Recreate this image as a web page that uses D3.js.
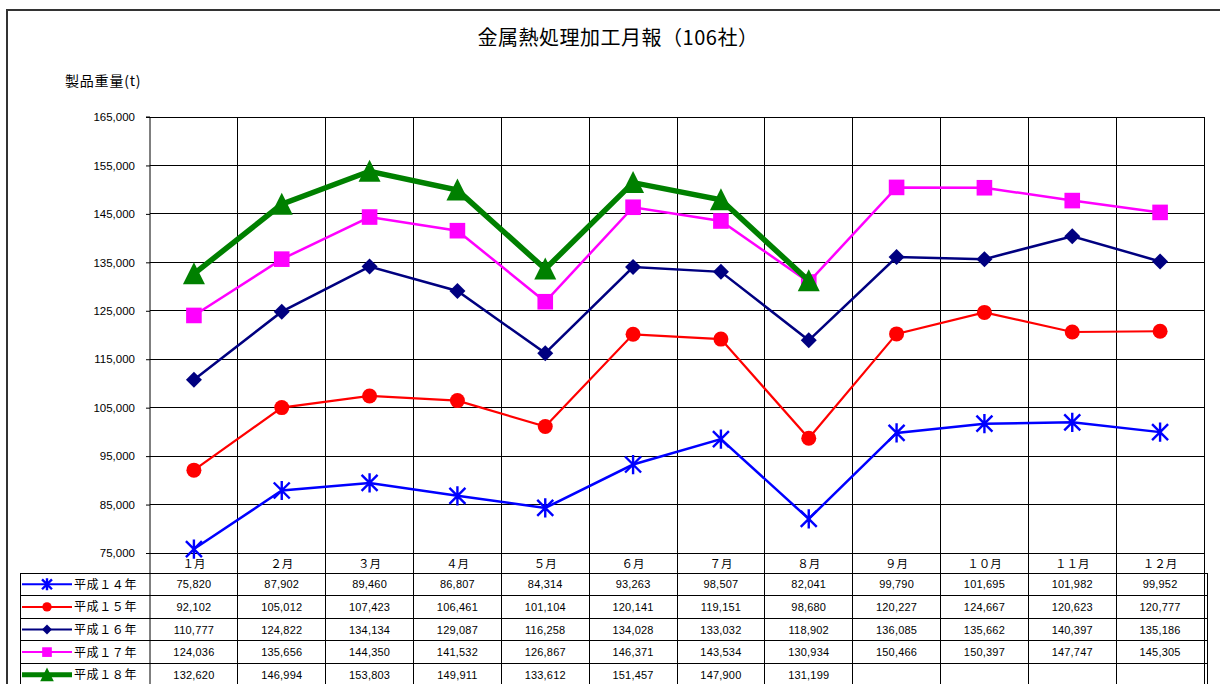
<!DOCTYPE html>
<html><head><meta charset="utf-8">
<script src="https://cdn.jsdelivr.net/npm/d3@7/dist/d3.min.js"></script>
<style>
html,body{margin:0;padding:0;background:#fff;overflow:hidden;}
svg{display:block;}
</style></head>
<body>
<svg id="c" width="1220" height="684"></svg>
<script>
const months = ["１月","２月","３月","４月","５月","６月","７月","８月","９月","１０月","１１月","１２月"];
const seriesNames = ["平成１４年","平成１５年","平成１６年","平成１７年","平成１８年"];
const h14 = [75820,87902,89460,86807,84314,93263,98507,82041,99790,101695,101982,99952];
const h15 = [92102,105012,107423,106461,101104,120141,119151,98680,120227,124667,120623,120777];
const h16 = [110777,124822,134134,129087,116258,134028,133032,118902,136085,135662,140397,135186];
const h17 = [124036,135656,144350,141532,126867,146371,143534,130934,150466,150397,147747,145305];
const h18 = [132620,146994,153803,149911,133612,151457,147900,131199];
const yTicks = [75000,85000,95000,105000,115000,125000,135000,145000,155000,165000];
const titleText = "金属熱処理加工月報（106社）";
const yLabel = "製品重量(t)";

const series = [
  {name:seriesNames[0], values:h14, color:"#0000FF", width:2.5, marker:"star"},
  {name:seriesNames[1], values:h15, color:"#FF0000", width:2.2, marker:"circle"},
  {name:seriesNames[2], values:h16, color:"#000080", width:2.5, marker:"diamond"},
  {name:seriesNames[3], values:h17, color:"#FF00FF", width:2.5, marker:"square"},
  {name:seriesNames[4], values:h18, color:"#008000", width:5.5, marker:"triangle"}
];

const svg = d3.select("#c");
const L = 150, R = 1204, T = 117, B = 553;
const x = d3.scaleBand().domain(months).range([L, R]);
const y = d3.scaleLinear().domain([75000,165000]).range([B, T]);
const jp = "'Noto Sans CJK JP', sans-serif";
const num = "'Liberation Sans', Arial, sans-serif";

// outer frame
svg.append("path").attr("d","M7,690 V10 H1225").attr("fill","none").attr("stroke","#333").attr("stroke-width",2);

// title
svg.append("text").attr("x",618).attr("y",45).attr("text-anchor","middle")
  .attr("font-family",jp).attr("font-size",20).attr("letter-spacing",0.5).attr("fill","#000").text(titleText);
svg.append("text").attr("x",65).attr("y",86)
  .attr("font-family",jp).attr("font-size",14).attr("letter-spacing",0.8).attr("fill","#000").text(yLabel);

// horizontal grid
const grid = svg.append("g");
grid.selectAll("line.h").data(yTicks).join("line")
  .attr("x1",L).attr("x2",R).attr("y1",d=>y(d)).attr("y2",d=>y(d))
  .attr("stroke","#000").attr("stroke-width",1).attr("shape-rendering","crispEdges");
// vertical grid lines (through chart and table)
const bounds = months.map(m=>x(m)).concat([R]);
const tableTop = 573, rowH = 22.6, nRows = 5;
const tableBottom = tableTop + rowH*nRows;
grid.selectAll("line.v").data(bounds.slice(1)).join("line")
  .attr("x1",d=>d).attr("x2",d=>d).attr("y1",T).attr("y2",tableBottom)
  .attr("stroke","#000").attr("stroke-width",1).attr("shape-rendering","crispEdges");

// y axis
const yAxis = svg.append("g").attr("transform",`translate(${L},0)`)
  .call(d3.axisLeft(y).tickValues(yTicks).tickSize(4).tickPadding(11).tickFormat(d3.format(",")));
yAxis.select(".domain").attr("stroke","#000").attr("d",`M-4,${T}H0V${tableBottom}`);
yAxis.selectAll(".tick line").attr("stroke","#000");
yAxis.selectAll("text").attr("font-family",num).attr("font-size",11.5).attr("fill","#000");

// table
const tbl = svg.append("g");
tbl.selectAll("text.m").data(months).join("text")
  .attr("x",d=>x(d)+x.bandwidth()/2).attr("y",568).attr("text-anchor","middle")
  .attr("font-family",jp).attr("font-size",11.5).attr("fill","#000").text(d=>d);
const rowLines = d3.range(nRows+1).map(i=>tableTop + i*rowH);
tbl.selectAll("line.r").data(rowLines).join("line")
  .attr("x1",20).attr("x2",1207).attr("y1",d=>d).attr("y2",d=>d)
  .attr("stroke","#000").attr("stroke-width",1).attr("shape-rendering","crispEdges");
tbl.append("line").attr("x1",20).attr("x2",20).attr("y1",tableTop).attr("y2",tableBottom+5)
  .attr("stroke","#000").attr("shape-rendering","crispEdges");
tbl.append("line").attr("x1",1207).attr("x2",1207).attr("y1",tableTop).attr("y2",tableBottom+5)
  .attr("stroke","#000").attr("shape-rendering","crispEdges");
const fmt = d3.format(",");
series.forEach((s,i)=>{
  const cy = tableTop + rowH*i + rowH/2;
  tbl.selectAll(null).data(s.values).join("text")
    .attr("x",(d,j)=>x(months[j])+x.bandwidth()/2).attr("y",cy+4).attr("text-anchor","middle")
    .attr("font-family",num).attr("font-size",11).attr("letter-spacing",0.2).attr("fill","#000")
    .text(d=>fmt(d));
  // legend
  tbl.append("line").attr("x1",22).attr("x2",72).attr("y1",cy).attr("y2",cy)
    .attr("stroke",s.color).attr("stroke-width",s.marker==="triangle"?5:2);
  drawMarker(tbl, s.marker, 47, cy, s.color, 0.62);
  tbl.append("text").attr("x",74).attr("y",cy+4.5).attr("font-family",jp).attr("font-size",12)
    .attr("letter-spacing",0.6).attr("fill","#000").text(s.name);
});

function drawMarker(g, type, cx, cy, color, k){
  if(type==="star"){
    const r=8*k;
    g.append("path").attr("d",`M${cx-r},${cy-r}L${cx+r},${cy+r}M${cx-r},${cy+r}L${cx+r},${cy-r}M${cx},${cy-r*1.2}L${cx},${cy+r*1.2}`)
      .attr("stroke",color).attr("stroke-width",2.4).attr("fill","none");
  } else if(type==="circle"){
    g.append("circle").attr("cx",cx).attr("cy",cy).attr("r",7.5*k).attr("fill",color);
  } else if(type==="diamond"){
    const r=8*k;
    g.append("path").attr("d",`M${cx},${cy-r}L${cx+r},${cy}L${cx},${cy+r}L${cx-r},${cy}Z`).attr("fill",color);
  } else if(type==="square"){
    const r=7.8*k;
    g.append("rect").attr("x",cx-r).attr("y",cy-r).attr("width",2*r).attr("height",2*r).attr("fill",color);
  } else if(type==="triangle"){
    const r=11*k;
    g.append("path").attr("d",`M${cx},${cy-r*1.05}L${cx+r},${cy+r*0.95}L${cx-r},${cy+r*0.95}Z`).attr("fill",color);
  }
}

// lines
const line = d3.line().x((d,j)=>x(months[j])+x.bandwidth()/2).y(d=>y(d));
const plot = svg.append("g");
series.forEach(s=>{
  plot.append("path").datum(s.values).attr("d",line).attr("fill","none")
    .attr("stroke",s.color).attr("stroke-width",s.width).attr("stroke-linejoin","miter");
  s.values.forEach((v,j)=>drawMarker(plot, s.marker, x(months[j])+x.bandwidth()/2, y(v), s.color, 1));
});
</script>
</body></html>
